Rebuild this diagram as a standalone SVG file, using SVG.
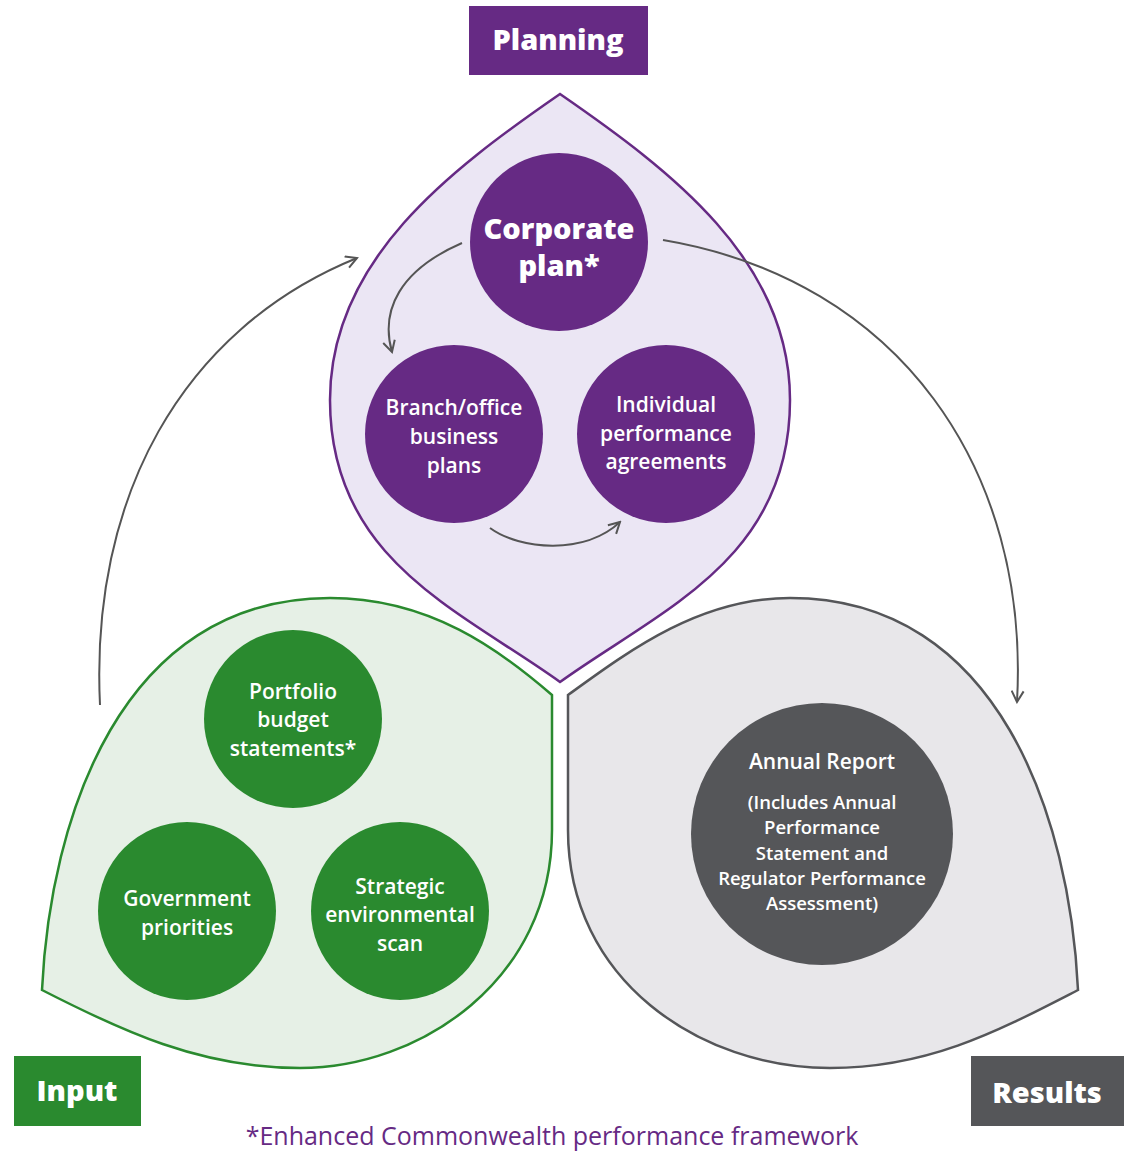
<svg xmlns="http://www.w3.org/2000/svg" width="1144" height="1154" viewBox="0 0 1144 1154">
<style>
text{font-family:"Open Sans","Liberation Sans",sans-serif;fill:#fff;text-anchor:middle;font-weight:600}
.t{font-size:21px}
.big{font-size:29px;font-weight:800}
.lbl{font-size:29px;font-weight:800}
.con{fill:none;stroke:#555;stroke-width:2}
</style>
<defs><marker id="a" viewBox="0 0 14 14" refX="12" refY="7" markerWidth="14" markerHeight="14" markerUnits="userSpaceOnUse" orient="auto"><path d="M1,1 L12,7 L1,13" fill="none" stroke="#555" stroke-width="2"/></marker></defs>
<rect width="1144" height="1154" fill="#fff"/>
<g id="planning-area"><path d="M560,94 C450,170 330,260 330,400 C330,560 460,610 560,682 C660,610 790,560 790,400 C790,260 670,170 560,94 Z" fill="#ebe6f4" stroke="#662a84" stroke-width="2.5"/></g>
<g id="input-area"><path d="M552,695 L552,830 C552,980 420,1068 300,1068 C200,1068 120,1030 42,990 C50,820 120,598 330,598 C430,598 500,650 552,695 Z" fill="#e6f0e6" stroke="#2a8a2f" stroke-width="2.5"/></g>
<g id="results-area"><path d="M568,695 L568,830 C568,980 700,1068 830,1068 C930,1068 1000,1030 1078,990 C1070,820 1000,598 790,598 C700,598 630,650 568,695 Z" fill="#e8e7ea" stroke="#555659" stroke-width="2.5"/></g>
<g id="connectors">
<path class="con" d="M100,705 C90,500 180,330 357,258" marker-end="url(#a)"/>
<path class="con" d="M663,240 C900,280 1030,470 1017,702" marker-end="url(#a)"/>
<path class="con" d="M462,243 C400,270 380,310 392,352" marker-end="url(#a)"/>
<path class="con" d="M490,528 C520,550 585,555 620,522" marker-end="url(#a)"/>
</g>
<g id="planning"><rect x="469" y="6" width="179" height="69" fill="#662a84"/><text x="558" y="50" class="lbl">Planning</text></g>
<g id="input"><rect x="14" y="1056" width="127" height="70" fill="#2a8a2f"/><text x="77" y="1101" class="lbl">Input</text></g>
<g id="results"><rect x="971" y="1056" width="153" height="70" fill="#555659"/><text x="1047" y="1103" class="lbl">Results</text></g>
<g id="corporate"><circle cx="559" cy="242" r="89" fill="#662a84"/><text x="559" y="239" class="big">Corporate</text><text x="559" y="276" class="big">plan*</text></g>
<g id="branch"><circle cx="454" cy="434" r="89" fill="#662a84"/><text class="t" x="454" y="415">Branch/office</text><text class="t" x="454" y="444">business</text><text class="t" x="454" y="473">plans</text></g>
<g id="individual"><circle cx="666" cy="434" r="89" fill="#662a84"/><text class="t" x="666" y="412">Individual</text><text class="t" x="666" y="441">performance</text><text class="t" x="666" y="469">agreements</text></g>
<g id="portfolio"><circle cx="293" cy="719" r="89" fill="#2a8a2f"/><text class="t" x="293" y="699">Portfolio</text><text class="t" x="293" y="727">budget</text><text class="t" x="293" y="756">statements*</text></g>
<g id="government"><circle cx="187" cy="911" r="89" fill="#2a8a2f"/><text class="t" x="187" y="906">Government</text><text class="t" x="187" y="935">priorities</text></g>
<g id="strategic"><circle cx="400" cy="911" r="89" fill="#2a8a2f"/><text class="t" x="400" y="894">Strategic</text><text class="t" x="400" y="922">environmental</text><text class="t" x="400" y="951">scan</text></g>
<g id="annual"><circle cx="822" cy="834" r="131" fill="#555659"/><text class="t" x="822" y="769">Annual Report</text>
<g style="font-size:18.5px"><text x="822" y="809">(Includes Annual</text><text x="822" y="834">Performance</text><text x="822" y="860">Statement and</text><text x="822" y="885">Regulator Performance</text><text x="822" y="910">Assessment)</text></g></g>
<text x="552" y="1145" style="font-size:25px;font-weight:400;fill:#662a84">*Enhanced Commonwealth performance framework</text>
</svg>
